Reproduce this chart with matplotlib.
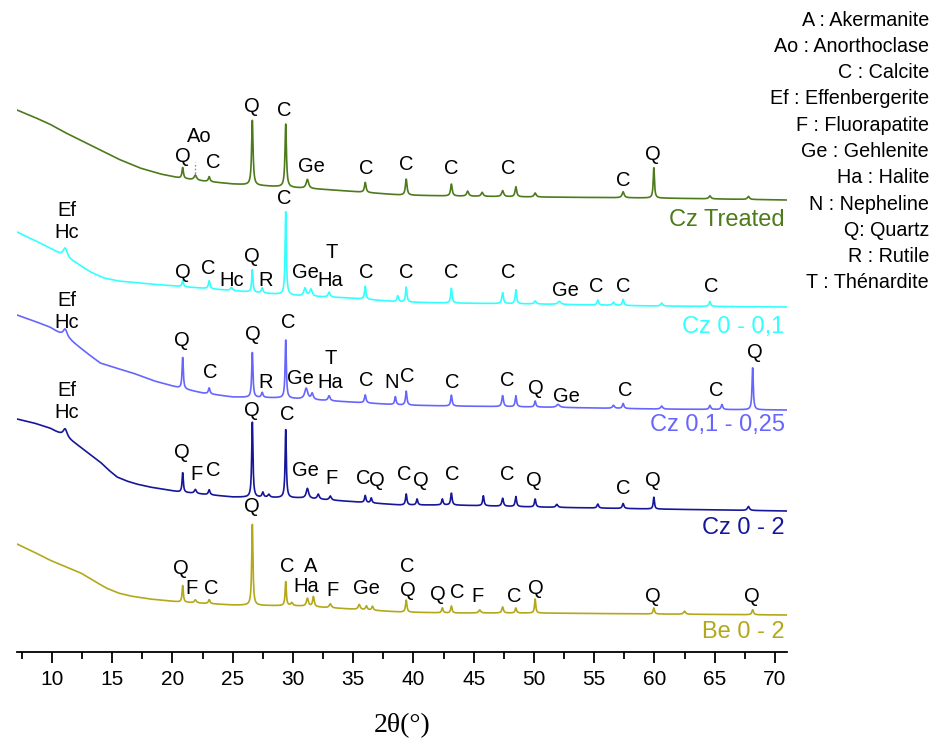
import numpy as np
import matplotlib
matplotlib.use("Agg")
import matplotlib.pyplot as plt
from matplotlib.ticker import MultipleLocator

plt.rcParams['font.family'] = ['Liberation Sans', 'DejaVu Sans']

# ---- data (heights in arbitrary intensity units, offsets included) ----
names = ['Cz Treated', 'Cz 0 - 0,1', 'Cz 0,1 - 0,25', 'Cz 0 - 2', 'Be 0 - 2']
colors = ['#4d7a1a', '#33ffff', '#6666ff', '#16169a', '#b3a81a']

# background levels: (2theta, intensity)
bg_treated = [(7.1, 542), (8.5, 535), (9.8, 528), (11.0, 520), (12.5, 511), (14.0, 502),
              (15.5, 493), (17.3, 484), (19.0, 478), (20.6, 474), (22.5, 471), (25.0, 468),
              (29.2, 465), (33.3, 462), (38.9, 457), (43.0, 456), (50.0, 455), (60.0, 454), (71.0, 452)]
bg_01 = [(7.1, 420), (8.5, 412), (9.8, 404), (10.8, 397), (12.0, 389), (13.2, 380), (14.3, 374),
         (15.5, 371), (18.1, 368), (22.3, 364), (26.4, 360), (30.6, 356), (34.7, 354),
         (38.9, 350), (43.0, 349), (50.0, 348), (60.0, 346), (71.0, 345)]
bg_025 = [(7.1, 337), (8.5, 331), (9.8, 325), (11.5, 312), (13.0, 298), (14.0, 289), (15.3, 284),
          (16.7, 279), (18.5, 271), (20.6, 264), (22.5, 259), (25.0, 255), (29.2, 254),
          (33.3, 251), (38.9, 247), (43.0, 246), (50.0, 245), (60.0, 243), (71.0, 242)]
bg_02 = [(7.1, 233), (8.5, 229), (9.8, 224), (11.0, 216), (12.0, 208), (13.0, 199), (14.0, 190),
         (14.7, 182), (15.4, 175), (16.2, 171), (17.0, 168), (18.1, 165), (20.6, 160),
         (25.0, 155), (30.6, 154), (38.9, 147), (43.0, 147), (50.0, 145), (60.0, 143), (71.0, 141)]
bg_be = [(7.1, 108), (8.5, 100), (9.8, 92), (11.0, 86), (12.4, 79), (13.5, 71), (14.5, 64),
         (15.5, 59), (16.5, 56), (18.1, 53), (20.6, 50), (25.0, 47), (30.6, 46), (38.9, 40),
         (43.0, 39), (50.0, 39), (60.0, 38), (71.0, 37)]

# peaks: (2theta, height above background, half width)
pk_treated = [(20.85, 11, .07), (21.9, 5, .12), (23.05, 5, .08), (26.63, 66, .07), (29.4, 63, .07),
              (31.2, 9, .12), (36.0, 10, .08), (39.4, 16, .08), (43.15, 12, .08), (44.5, 5, .1),
              (45.7, 4, .1), (47.4, 6, .1), (48.5, 10, .08), (50.1, 4, .1), (57.4, 6, .1),
              (59.95, 31, .06), (64.6, 3, .1), (67.8, 3, .1)]
pk_01 = [(11.1, 9, .2), (20.85, 6, .07), (23.05, 8, .08), (24.9, 3, .1), (26.63, 23, .06),
         (27.45, 5, .08), (29.4, 83, .06), (31.0, 8, .12), (31.5, 7, .12), (33.0, 5, .1),
         (36.0, 13, .07), (38.7, 6, .08), (39.4, 15, .07), (43.15, 15, .07), (47.4, 11, .08),
         (48.5, 14, .07), (50.1, 3, .1), (52.1, 3, .15), (55.3, 5, .08), (56.6, 3, .1),
         (57.4, 6, .08), (60.6, 3, .1), (64.6, 5, .08)]
pk_025 = [(11.1, 8, .2), (20.85, 32, .06), (23.05, 6, .08), (26.63, 46, .06), (27.45, 5, .08),
          (29.4, 58, .06), (31.1, 11, .15), (31.6, 6, .1), (33.0, 5, .1), (36.0, 8, .08),
          (38.5, 8, .07), (39.4, 14, .07), (43.15, 11, .07), (47.4, 11, .08), (48.5, 11, .07),
          (50.1, 6, .07), (52.0, 3, .15), (56.6, 3, .1), (57.4, 5, .08), (60.6, 3, .1),
          (64.6, 4, .08), (65.6, 5, .08), (68.15, 43, .06)]
pk_02 = [(11.1, 8, .2), (20.85, 20, .06), (21.9, 4, .1), (23.05, 5, .08), (26.63, 77, .06),
         (27.5, 5, .08), (28.0, 3, .1), (29.4, 68, .06), (31.2, 10, .12), (32.1, 5, .1),
         (33.1, 4, .1), (36.0, 7, .07), (36.5, 5, .07), (39.4, 11, .07), (40.3, 6, .07),
         (42.4, 6, .07), (43.15, 12, .07), (45.8, 10, .07), (47.4, 8, .08), (48.5, 10, .07),
         (50.1, 8, .07), (51.9, 3, .1), (55.3, 4, .08), (57.4, 5, .08), (59.95, 12, .06),
         (67.8, 4, .1)]
pk_be = [(20.85, 17, .06), (21.9, 3, .1), (23.05, 4, .08), (26.63, 83, .06), (29.4, 24, .06),
         (29.9, 3, .1), (31.2, 8, .1), (31.7, 10, .08), (33.1, 4, .1), (35.5, 5, .1),
         (36.1, 4, .08), (36.6, 4, .08), (39.4, 12, .07), (42.4, 5, .07), (43.15, 7, .07),
         (45.5, 3, .1), (47.4, 6, .08), (48.5, 5, .07), (50.1, 14, .06), (59.95, 6, .07),
         (62.5, 3, .1), (68.15, 5, .08)]

backgrounds = [bg_treated, bg_01, bg_025, bg_02, bg_be]
peaks = [pk_treated, pk_01, pk_025, pk_02, pk_be]

# phase labels: (text, 2theta, y) for each pattern
labels_treated = [('Q', 20.9, 495), ('Ao', 22.2, 515), ('C', 23.4, 490), ('Q', 26.6, 545),
                  ('C', 29.3, 542), ('Ge', 31.5, 486), ('C', 36.1, 484), ('C', 39.4, 487),
                  ('C', 43.1, 484), ('C', 47.9, 484), ('C', 57.4, 471), ('Q', 59.9, 498)]
labels_01 = [('Ef', 11.2, 442), ('Hc', 11.2, 419), ('Q', 20.9, 379), ('C', 23.0, 384),
             ('Hc', 24.9, 371), ('Q', 26.6, 396), ('R', 27.7, 371), ('C', 29.3, 453),
             ('Ge', 31.0, 379), ('T', 33.2, 400), ('Ha', 33.1, 372), ('C', 36.1, 379),
             ('C', 39.4, 380), ('C', 43.1, 380), ('C', 47.9, 379), ('Ge', 52.6, 362),
             ('C', 55.2, 365), ('C', 57.4, 365), ('C', 64.7, 365)]
labels_025 = [('Ef', 11.2, 351), ('Hc', 11.2, 329), ('Q', 20.8, 312), ('C', 23.1, 279),
              ('Q', 26.7, 318), ('R', 27.7, 270), ('C', 29.6, 330), ('Ge', 30.6, 274),
              ('T', 33.1, 294), ('Ha', 33.1, 270), ('C', 36.1, 271), ('N', 38.2, 269),
              ('C', 39.5, 275), ('C', 43.2, 270), ('C', 47.8, 271), ('Q', 50.2, 264),
              ('Ge', 52.7, 256), ('C', 57.6, 261), ('C', 65.1, 261), ('Q', 68.3, 300)]
labels_02 = [('Ef', 11.2, 262), ('Hc', 11.2, 239), ('Q', 20.8, 199), ('F', 22.0, 178),
             ('C', 23.4, 181), ('Q', 26.6, 242), ('C', 29.5, 238), ('Ge', 31.0, 182),
             ('F', 33.2, 174), ('C', 35.8, 174), ('Q', 37.0, 171), ('C', 39.2, 177),
             ('Q', 40.6, 171), ('C', 43.2, 177), ('C', 47.8, 177), ('Q', 50.0, 171),
             ('C', 57.4, 164), ('Q', 59.9, 172)]
labels_be = [('Q', 26.6, 146), ('Q', 20.7, 83), ('F', 21.6, 64), ('C', 23.2, 64),
             ('C', 29.5, 85), ('A', 31.5, 85), ('Ha', 31.1, 65), ('F', 33.3, 62),
             ('Ge', 36.1, 63), ('C', 39.5, 85), ('Q', 39.5, 62), ('Q', 42.0, 58),
             ('C', 43.6, 60), ('F', 45.3, 55), ('C', 48.4, 55), ('Q', 50.2, 64),
             ('Q', 59.9, 55), ('Q', 68.1, 55)]
phase_labels = [labels_treated, labels_01, labels_025, labels_02, labels_be]
name_y = [432, 325, 227, 124, 20]

legend_lines = ['A : Akermanite', 'Ao : Anorthoclase', 'C : Calcite', 'Ef : Effenbergerite',
                'F : Fluorapatite', 'Ge : Gehlenite', 'Ha : Halite', 'N : Nepheline',
                'Q: Quartz', 'R : Rutile', 'T : Thénardite']

# ---- figure ----
fig = plt.figure(figsize=(9.36, 7.42), dpi=100)
ax = fig.add_axes([17 / 936, 90 / 742, 770 / 936, 652 / 742])

tt = np.arange(7.1, 70.95, 0.02)
for bg, pk, col, name, labs, ny in zip(backgrounds, peaks, colors, names, phase_labels, name_y):
    bx = np.array([p[0] for p in bg])
    by = np.array([p[1] for p in bg])
    y = np.interp(tt, bx, by)
    for pos, h, w in pk:
        y = y + h / (1 + ((tt - pos) / w) ** 2)
    ax.plot(tt, y, color=col, lw=1.2)
    for txt, x, yy in labs:
        ax.text(x, yy, txt, ha='center', va='center', fontsize=14.5, color='black')
    ax.text(70.8, ny, name, ha='right', va='center', fontsize=17, color=col)

# small dotted marker under "Ao"
ax.plot([21.9, 21.9], [475, 490], color='gray', lw=1, ls=':')

for i, line in enumerate(legend_lines):
    fig.text(929 / 936, 1 - (20 + i * 26.3) / 742, line, ha='right', va='center', fontsize=14.2)

ax.set_xlim(7.1, 71)
ax.set_ylim(0, 652)
for s in ['left', 'right', 'top']:
    ax.spines[s].set_visible(False)
ax.spines['bottom'].set_linewidth(1.3)
ax.set_yticks([])
ax.xaxis.set_major_locator(MultipleLocator(5))
ax.xaxis.set_minor_locator(MultipleLocator(2.5))
ax.set_xticks(np.arange(10, 71, 5))
ax.tick_params(axis='x', which='major', direction='out', length=8, width=1.3, labelsize=15, pad=5)
ax.tick_params(axis='x', which='minor', direction='out', length=5, width=1.3)
ax.set_xlabel('2θ(°)', fontsize=20, family=['Liberation Serif', 'DejaVu Serif'], labelpad=17)
ax.patch.set_alpha(0)

fig.savefig('out.png', dpi=100)
